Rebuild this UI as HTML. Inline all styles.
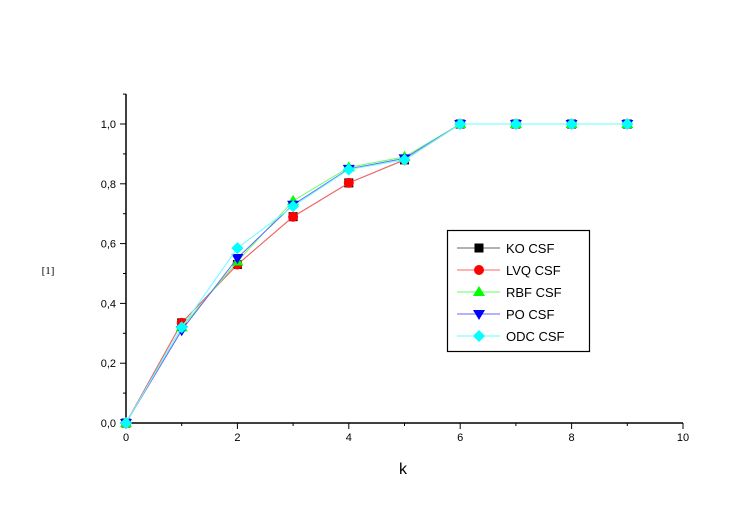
<!DOCTYPE html>
<html><head><meta charset="utf-8"><style>
body{margin:0;background:#fff}
svg text{font-family:"Liberation Sans",sans-serif}
</style></head><body>
<svg width="747" height="507" xmlns="http://www.w3.org/2000/svg">
<g id="axes"></g>
<g id="series"></g>
<g id="legend"></g>
</svg>
<script>
const xs = [0,1,2,3,4,5,6,7,8,9];
const koVals  = [0,0.335,0.53,0.69,0.803,0.88,1,1,1,1];
const lvqVals = [0,0.335,0.53,0.69,0.803,0.88,1,1,1,1];
const rbfVals = [0,0.32,0.54,0.743,0.855,0.89,1,1,1,1];
const poVals  = [0,0.31,0.552,0.73,0.85,0.885,1,1,1,1];
const odcVals = [0,0.32,0.585,0.725,0.848,0.88,1,1,1,1];
const xTicks = [0,2,4,6,8,10];
const yTicks = ["0,0","0,2","0,4","0,6","0,8","1,0"];
const seriesNames = ["KO CSF","LVQ CSF","RBF CSF","PO CSF","ODC CSF"];

const NS="http://www.w3.org/2000/svg";
const X0=126,X1=683,Y0=423,Y1=124,YTOP=94;
const sx=v=>X0+(X1-X0)*v/10;
const sy=v=>Y0-(Y0-Y1)*v;
function mk(tag,attrs,parent){const e=document.createElementNS(NS,tag);for(const k in attrs)e.setAttribute(k,attrs[k]);parent.appendChild(e);return e;}
const axes=document.getElementById('axes');
let e=mk('line',{x1:X0,y1:YTOP,x2:X0,y2:Y0,stroke:'#000','stroke-width':1.5},axes);


e=mk('line',{x1:X0,y1:Y0,x2:X1,y2:Y0,stroke:'#000','stroke-width':1.5},axes);


xTicks.forEach(t=>{
  mk('line',{x1:sx(t),y1:Y0,x2:sx(t),y2:Y0+6,stroke:'#000'},axes);
  if(t<10) mk('line',{x1:sx(t+1),y1:Y0,x2:sx(t+1),y2:Y0+3,stroke:'#000'},axes);
  const tx=mk('text',{x:sx(t),y:Y0+18,'text-anchor':'middle','font-size':11},axes);tx.textContent=t;
  
  
});
yTicks.forEach((t,i)=>{
  const v=i*0.2;
  mk('line',{x1:X0-6,y1:sy(v),x2:X0,y2:sy(v),stroke:'#000'},axes);
  mk('line',{x1:X0-3,y1:sy(v+0.1),x2:X0,y2:sy(v+0.1),stroke:'#000'},axes);
  const tx=mk('text',{x:X0-10,y:sy(v)+4,'text-anchor':'end','font-size':11},axes);tx.textContent=t;
  
  
});
e=mk('text',{x:403,y:474,'text-anchor':'middle','font-size':16},axes);e.textContent='k';


e=mk('text',{x:48,y:274,'text-anchor':'middle','font-size':11,style:'font-family:"Liberation Serif",serif'},axes);e.textContent='[1]';



const cols=['#000','#f00','#0f0','#00f','#0ff'];
const lineCols=['#666','#f66','#6f6','#66f','#6ff'];
const shapes=['sq','ci','tu','td','di'];
function marker(shape,x,y,c,p){
  if(shape==='sq')return mk('rect',{x:x-4.5,y:y-4.5,width:9,height:9,fill:c},p);
  if(shape==='ci')return mk('circle',{cx:x,cy:y,r:5,fill:c},p);
  if(shape==='tu')return mk('polygon',{points:`${x},${y-6} ${x+6},${y+4} ${x-6},${y+4}`,fill:c},p);
  if(shape==='td')return mk('polygon',{points:`${x},${y+6} ${x+6},${y-4} ${x-6},${y-4}`,fill:c},p);
  return mk('polygon',{points:`${x},${y-6} ${x+6},${y} ${x},${y+6} ${x-6},${y}`,fill:c},p);
}
const allVals=[koVals,lvqVals,rbfVals,poVals,odcVals];
const sg=document.getElementById('series');
allVals.forEach((vals,si)=>{
  const g=mk('g',{},sg);
  
  
  mk('polyline',{points:xs.map((x,i)=>sx(x)+','+sy(vals[i])).join(' '),fill:'none',stroke:lineCols[si],'stroke-width':1},g);
  xs.forEach((x,i)=>{const m=marker(shapes[si],sx(x),sy(vals[i]),cols[si],g);
    
    });
});
const lg=document.getElementById('legend');


mk('rect',{x:447.5,y:230.5,width:142,height:121,fill:'#fff',stroke:'#000','stroke-width':1.2},lg);
seriesNames.forEach((n,i)=>{
  const y=248+i*22;
  const g=mk('g',{},lg);
  
  
  mk('line',{x1:457,y1:y,x2:500,y2:y,stroke:lineCols[i]},g);
  marker(shapes[i],479,y,cols[i],g);
  const t=mk('text',{x:506,y:y+5,'font-size':13},g);t.textContent=n;
});
</script>
</body></html>
